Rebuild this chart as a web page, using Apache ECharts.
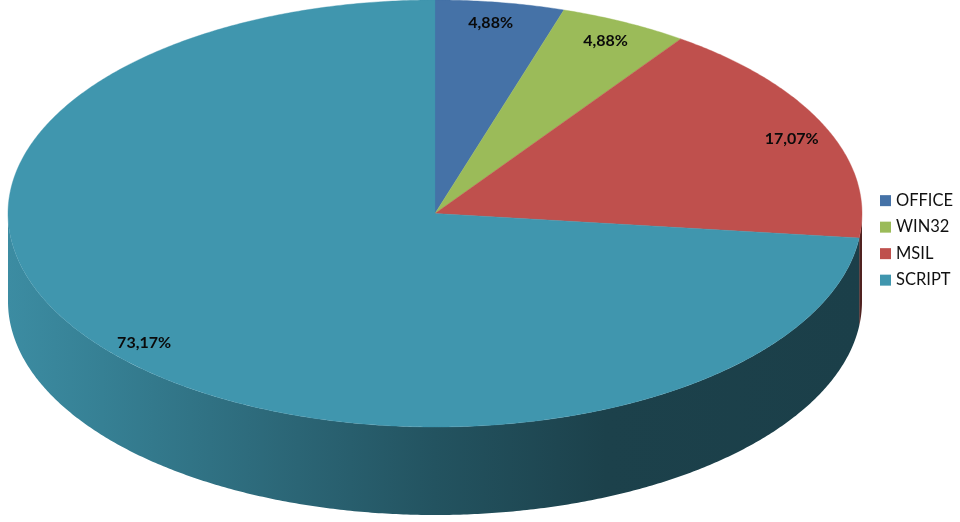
<!DOCTYPE html>
<html><head><meta charset="utf-8">
<style>html,body{margin:0;padding:0;background:#fff}#c{width:960px;height:522px}</style>
<script src="https://cdn.jsdelivr.net/npm/echarts@6/dist/echarts.min.js"></script>
</head><body><div id="c"></div>
<script>
const categories = ['OFFICE', 'WIN32', 'MSIL', 'SCRIPT'];
const shares = [4.88, 4.88, 17.07, 73.17];
const colors = ['#4572A7', '#9BBB59', '#BF504D', '#4096AE'];
const labelNudge = [[-3, -1], [0, 0], [6, 4], [-4, 2]];

const CX = 435, CY = 213.5, RX = 427, RY = 213.5, DEPTH = 88, LABEL_R = 0.9;
const total = shares.reduce((a, b) => a + b, 0);
const rim = (t, dy, f) => [CX + RX * (f || 1) * Math.sin(t), CY + dy - RY * (f || 1) * Math.cos(t)];
const shade = (hex, k) => {
  const n = parseInt(hex.slice(1), 16);
  const c = s => Math.round(((n >> s) & 255) * k);
  return 'rgb(' + c(16) + ',' + c(8) + ',' + c(0) + ')';
};
function arc(a, b, dy) {
  const pts = [], steps = Math.max(2, Math.ceil(Math.abs(b - a) * 120));
  for (let i = 0; i <= steps; i++) pts.push(rim(a + (b - a) * i / steps, dy));
  return pts;
}
function renderSlice(index) {
  return function () {
    let before = 0;
    for (let i = 0; i < index; i++) before += shares[i];
    const a = before / total * 2 * Math.PI, b = (before + shares[index]) / total * 2 * Math.PI;
    const color = colors[index], children = [];
    const wa = Math.max(a, Math.PI / 2), wb = Math.min(b, 1.5 * Math.PI);
    if (wb > wa) {
      children.push({
        type: 'polygon', silent: true,
        shape: { points: arc(wa, wb, 0).concat(arc(wb, wa, DEPTH)) },
        style: {
          fill: new echarts.graphic.LinearGradient(CX - RX, 0, CX + RX, 0, [
            { offset: 0, color: shade(color, 0.93) },
            { offset: 0.11, color: shade(color, 0.85) },
            { offset: 0.34, color: shade(color, 0.67) },
            { offset: 0.5, color: shade(color, 0.55) },
            { offset: 0.7, color: shade(color, 0.43) },
            { offset: 1, color: shade(color, 0.42) }
          ], true)
        }
      });
    }
    children.push({
      type: 'polygon', silent: true,
      shape: { points: [[CX, CY]].concat(arc(a, b, 0)) },
      style: { fill: color, stroke: color, lineWidth: 0.4 }
    });
    const m = (a + b) / 2, p = rim(m, 0, LABEL_R);
    children.push({
      type: 'text', silent: true, z2: 10,
      style: {
        x: p[0] + labelNudge[index][0], y: p[1] + labelNudge[index][1],
        text: shares[index].toFixed(2).replace('.', ',') + '%',
        fill: '#0a0a0a', font: 'bold 16px Lato', align: 'center', verticalAlign: 'middle'
      }
    });
    return { type: 'group', children };
  };
}
const chart = echarts.init(document.getElementById('c'), null, { renderer: 'canvas' });
chart.setOption({
  animation: false,
  backgroundColor: '#fff',
  tooltip: { show: false },
  legend: {
    orient: 'vertical', left: 875, top: 187, itemWidth: 11, itemHeight: 11, itemGap: 9.2,
    icon: 'rect', selectedMode: false, data: categories,
    textStyle: { fontFamily: 'Lato', fontSize: 16.5, color: '#111', lineHeight: 17.3, padding: 0 }
  },
  series: categories.map((name, i) => ({
    type: 'custom', name, coordinateSystem: 'none',
    itemStyle: { color: colors[i] }, silent: true,
    data: [shares[i]], renderItem: renderSlice(i)
  }))
});
</script></body></html>
